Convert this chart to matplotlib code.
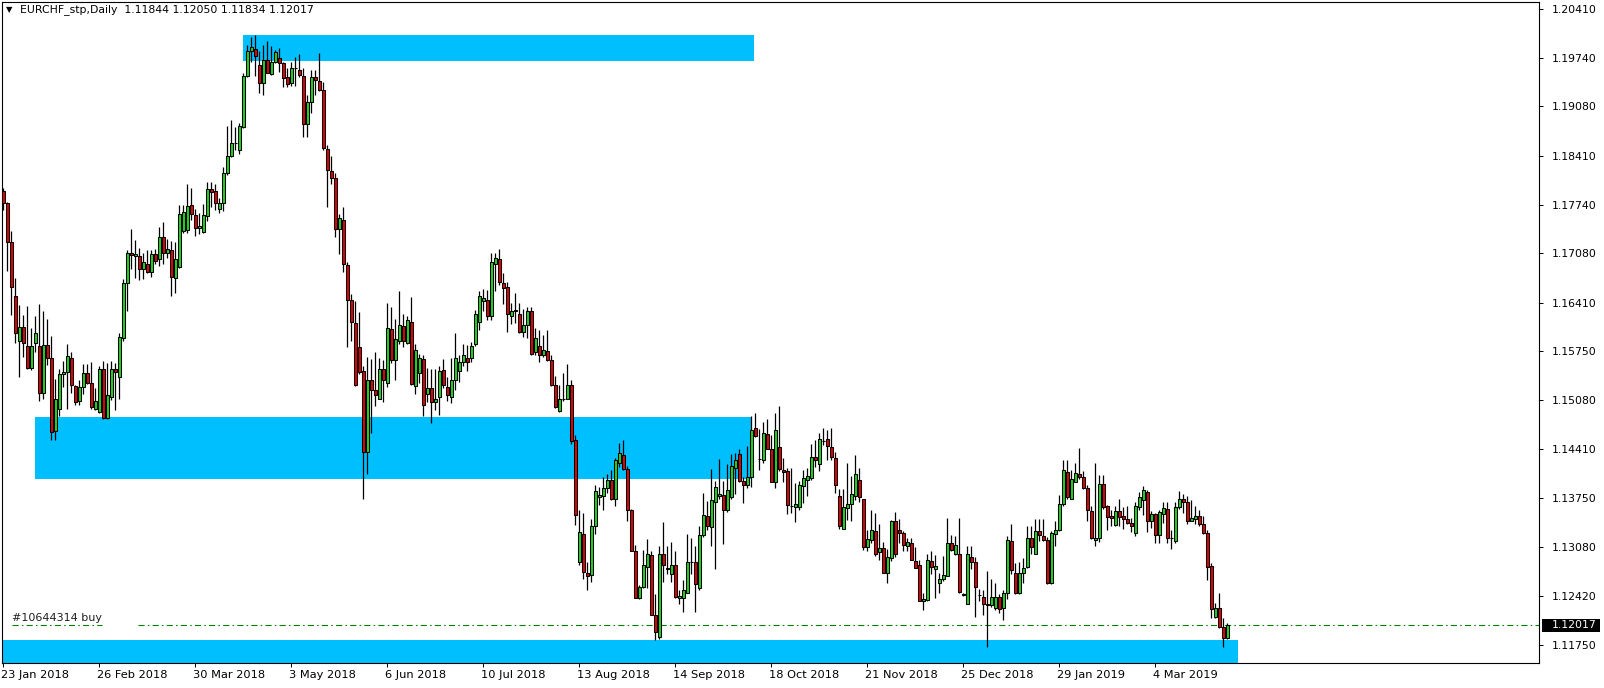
import numpy as np
import matplotlib.pyplot as plt
import matplotlib.transforms as mtransforms
from matplotlib.patches import Rectangle

# EURCHF daily candles, 23 Jan 2018 onwards
opens = [
    1.1793, 1.1777, 1.1724, 1.1650, 1.1588, 1.1607, 1.1582, 1.1552, 1.1586, 1.1582,
    1.1518, 1.1583, 1.1566, 1.1466, 1.1496, 1.1543, 1.1546, 1.1565, 1.1527, 1.1507,
    1.1526, 1.1545, 1.1532, 1.1496, 1.1492, 1.1551, 1.1484, 1.1513, 1.1550, 1.1539,
    1.1592, 1.1667, 1.1708, 1.1704, 1.1705, 1.1686, 1.1694, 1.1683, 1.1707, 1.1700,
    1.1730, 1.1708, 1.1712, 1.1675, 1.1689, 1.1739, 1.1740, 1.1774, 1.1760, 1.1743,
    1.1737, 1.1759, 1.1796, 1.1793, 1.1769, 1.1776, 1.1818, 1.1840, 1.1858, 1.1848,
    1.1880, 1.1949, 1.1983, 1.1986, 1.1965, 1.1940, 1.1971, 1.1952, 1.1968, 1.1974,
    1.1967, 1.1948, 1.1940, 1.1960, 1.1957, 1.1950, 1.1884, 1.1914, 1.1948, 1.1943,
    1.1930, 1.1850, 1.1820, 1.1810, 1.1741, 1.1754, 1.1692, 1.1644, 1.1613, 1.1580,
    1.1548, 1.1437, 1.1535, 1.1522, 1.1510, 1.1550, 1.1532, 1.1605, 1.1563, 1.1589,
    1.1609, 1.1586, 1.1615, 1.1527, 1.1545, 1.1564, 1.1516, 1.1525, 1.1506, 1.1512,
    1.1549, 1.1526, 1.1513, 1.1535, 1.1548, 1.1560, 1.1566, 1.1565, 1.1584, 1.1615,
    1.1643, 1.1645, 1.1623, 1.1694, 1.1700, 1.1667, 1.1662, 1.1623, 1.1630, 1.1625,
    1.1601, 1.1610, 1.1630, 1.1573, 1.1582, 1.1569, 1.1575, 1.1563, 1.1528, 1.1493,
    1.1510, 1.1510, 1.1529, 1.1454, 1.1288, 1.1326, 1.1273, 1.1270, 1.1336, 1.1376,
    1.1378, 1.1389, 1.1399, 1.1374, 1.1423, 1.1434, 1.1414, 1.1359, 1.1303, 1.1238,
    1.1253, 1.1281, 1.1297, 1.1216, 1.1185, 1.1298, 1.1280, 1.1271, 1.1283, 1.1238,
    1.1239, 1.1246, 1.1288, 1.1287, 1.1252, 1.1324, 1.1350, 1.1335, 1.1370, 1.1377,
    1.1379, 1.1358, 1.1376, 1.1415, 1.1435, 1.1398, 1.1392, 1.1403, 1.1470, 1.1428,
    1.1427, 1.1462, 1.1442, 1.1397, 1.1444, 1.1413, 1.1412, 1.1364, 1.1363, 1.1362,
    1.1391, 1.1399, 1.1402, 1.1430, 1.1421, 1.1453, 1.1455, 1.1444, 1.1429, 1.1378,
    1.1333, 1.1361, 1.1366, 1.1377, 1.1399, 1.1373, 1.1308, 1.1317, 1.1330, 1.1301,
    1.1307, 1.1273, 1.1293, 1.1343, 1.1331, 1.1327, 1.1309, 1.1313, 1.1289, 1.1283,
    1.1234, 1.1236, 1.1289, 1.1278, 1.1259, 1.1264, 1.1269, 1.1313, 1.1298, 1.1299,
    1.1244, 1.1231, 1.1295, 1.1288, 1.1243, 1.1240, 1.1230, 1.1229, 1.1225, 1.1240,
    1.1225, 1.1245, 1.1316, 1.1273, 1.1245, 1.1272, 1.1281, 1.1320, 1.1299, 1.1330,
    1.1323, 1.1318, 1.1259, 1.1326, 1.1331, 1.1367, 1.1410, 1.1374, 1.1397, 1.1407,
    1.1403, 1.1388, 1.1357, 1.1317, 1.1320, 1.1394, 1.1364, 1.1350, 1.1338, 1.1357,
    1.1350, 1.1346, 1.1341, 1.1327, 1.1363, 1.1372, 1.1383, 1.1344, 1.1353, 1.1325,
    1.1353, 1.1360, 1.1321, 1.1316, 1.1362, 1.1374, 1.1369, 1.1344, 1.1346, 1.1350,
    1.1340, 1.1327, 1.1282, 1.1213, 1.1225, 1.1199, 1.11844,
]
highs = [
    1.1797, 1.1778, 1.1738, 1.1674, 1.1638, 1.1624, 1.1636, 1.1606, 1.1623, 1.1639,
    1.1629, 1.1619, 1.1595, 1.1537, 1.1550, 1.1561, 1.1585, 1.1573, 1.1529, 1.1536,
    1.1557, 1.1557, 1.1560, 1.1524, 1.1555, 1.1562, 1.1558, 1.1561, 1.1559, 1.1599,
    1.1673, 1.1713, 1.1741, 1.1726, 1.1715, 1.1709, 1.1713, 1.1713, 1.1714, 1.1744,
    1.1750, 1.1727, 1.1725, 1.1724, 1.1774, 1.1774, 1.1803, 1.1797, 1.1768, 1.1763,
    1.1775, 1.1805, 1.1805, 1.1803, 1.1783, 1.1825, 1.1881, 1.1890, 1.1880, 1.1885,
    1.1954, 1.1992, 1.2002, 1.2005, 1.1983, 1.1992, 1.1997, 1.1990, 1.1985, 1.1987,
    1.1969, 1.1960, 1.1969, 1.1975, 1.1979, 1.1960, 1.1923, 1.1958, 1.1958, 1.1981,
    1.1941, 1.1856, 1.1841, 1.1817, 1.1762, 1.1771, 1.1696, 1.1652, 1.1643, 1.1628,
    1.1554, 1.1567, 1.1564, 1.1574, 1.1565, 1.1563, 1.1641, 1.1635, 1.1619, 1.1657,
    1.1625, 1.1623, 1.1648, 1.1585, 1.1571, 1.1570, 1.1552, 1.1550, 1.1550, 1.1554,
    1.1564, 1.1540, 1.1565, 1.1599, 1.1570, 1.1584, 1.1583, 1.1587, 1.1631, 1.1657,
    1.1659, 1.1658, 1.1708, 1.1709, 1.1714, 1.1681, 1.1669, 1.1640, 1.1654, 1.1640,
    1.1632, 1.1635, 1.1635, 1.1606, 1.1603, 1.1597, 1.1603, 1.1570, 1.1541, 1.1529,
    1.1545, 1.1557, 1.1536, 1.1460, 1.1359, 1.1354, 1.1287, 1.1346, 1.1393, 1.1390,
    1.1403, 1.1408, 1.1413, 1.1429, 1.1450, 1.1454, 1.1418, 1.1360, 1.1311, 1.1256,
    1.1304, 1.1319, 1.1303, 1.1244, 1.1310, 1.1342, 1.1310, 1.1315, 1.1303, 1.1250,
    1.1263, 1.1326, 1.1321, 1.1309, 1.1337, 1.1382, 1.1371, 1.1414, 1.1398, 1.1428,
    1.1398, 1.1421, 1.1435, 1.1436, 1.1442, 1.1403, 1.1445, 1.1486, 1.1491, 1.1469,
    1.1478, 1.1482, 1.1461, 1.1491, 1.1500, 1.1429, 1.1415, 1.1415, 1.1395, 1.1398,
    1.1413, 1.1415, 1.1448, 1.1454, 1.1463, 1.1470, 1.1468, 1.1470, 1.1437, 1.1387,
    1.1387, 1.1423, 1.1405, 1.1433, 1.1415, 1.1374, 1.1331, 1.1358, 1.1354, 1.1340,
    1.1315, 1.1306, 1.1345, 1.1356, 1.1346, 1.1330, 1.1321, 1.1320, 1.1308, 1.1290,
    1.1246, 1.1299, 1.1302, 1.1297, 1.1272, 1.1296, 1.1348, 1.1324, 1.1323, 1.1348,
    1.1245, 1.1309, 1.1309, 1.1294, 1.1251, 1.1249, 1.1276, 1.1264, 1.1259, 1.1244,
    1.1250, 1.1323, 1.1339, 1.1286, 1.1287, 1.1293, 1.1336, 1.1337, 1.1346, 1.1346,
    1.1346, 1.1322, 1.1330, 1.1344, 1.1379, 1.1427, 1.1427, 1.1413, 1.1423, 1.1443,
    1.1411, 1.1393, 1.1364, 1.1423, 1.1406, 1.1406, 1.1365, 1.1358, 1.1364, 1.1373,
    1.1363, 1.1364, 1.1347, 1.1369, 1.1383, 1.1391, 1.1386, 1.1357, 1.1354, 1.1359,
    1.1369, 1.1369, 1.1331, 1.1370, 1.1384, 1.1380, 1.1377, 1.1372, 1.1364, 1.1359,
    1.1350, 1.1331, 1.1286, 1.1232, 1.1245, 1.1212, 1.12050,
]
lows = [
    1.1767, 1.1684, 1.1624, 1.1586, 1.1540, 1.1567, 1.1551, 1.1549, 1.1573, 1.1507,
    1.1510, 1.1556, 1.1454, 1.1454, 1.1486, 1.1526, 1.1496, 1.1518, 1.1502, 1.1502,
    1.1516, 1.1530, 1.1496, 1.1495, 1.1491, 1.1483, 1.1483, 1.1508, 1.1494, 1.1509,
    1.1589, 1.1630, 1.1686, 1.1674, 1.1672, 1.1673, 1.1681, 1.1676, 1.1694, 1.1691,
    1.1693, 1.1701, 1.1650, 1.1654, 1.1688, 1.1736, 1.1735, 1.1753, 1.1731, 1.1734,
    1.1736, 1.1752, 1.1771, 1.1767, 1.1763, 1.1766, 1.1815, 1.1839, 1.1849, 1.1843,
    1.1878, 1.1948, 1.1969, 1.1950, 1.1926, 1.1924, 1.1953, 1.1951, 1.1967, 1.1955,
    1.1935, 1.1935, 1.1936, 1.1936, 1.1948, 1.1866, 1.1866, 1.1899, 1.1924, 1.1929,
    1.1849, 1.1771, 1.1802, 1.1730, 1.1707, 1.1683, 1.1580, 1.1588, 1.1527, 1.1544,
    1.1373, 1.1407, 1.1463, 1.1500, 1.1509, 1.1505, 1.1526, 1.1558, 1.1535, 1.1585,
    1.1580, 1.1584, 1.1529, 1.1517, 1.1532, 1.1486, 1.1505, 1.1477, 1.1494, 1.1488,
    1.1524, 1.1507, 1.1504, 1.1522, 1.1533, 1.1554, 1.1548, 1.1560, 1.1582, 1.1604,
    1.1630, 1.1617, 1.1617, 1.1657, 1.1665, 1.1639, 1.1601, 1.1612, 1.1613, 1.1600,
    1.1594, 1.1593, 1.1570, 1.1569, 1.1560, 1.1567, 1.1562, 1.1527, 1.1497, 1.1492,
    1.1507, 1.1509, 1.1449, 1.1338, 1.1283, 1.1264, 1.1250, 1.1261, 1.1326, 1.1365,
    1.1358, 1.1381, 1.1372, 1.1364, 1.1417, 1.1413, 1.1343, 1.1302, 1.1238, 1.1237,
    1.1252, 1.1252, 1.1215, 1.1181, 1.1183, 1.1261, 1.1271, 1.1260, 1.1239, 1.1231,
    1.1220, 1.1245, 1.1271, 1.1220, 1.1250, 1.1322, 1.1331, 1.1310, 1.1278, 1.1374,
    1.1312, 1.1356, 1.1374, 1.1380, 1.1397, 1.1368, 1.1388, 1.1390, 1.1458, 1.1413,
    1.1422, 1.1441, 1.1396, 1.1389, 1.1412, 1.1396, 1.1353, 1.1354, 1.1342, 1.1358,
    1.1368, 1.1377, 1.1399, 1.1417, 1.1412, 1.1447, 1.1427, 1.1427, 1.1382, 1.1333,
    1.1332, 1.1345, 1.1343, 1.1372, 1.1370, 1.1304, 1.1303, 1.1314, 1.1296, 1.1291,
    1.1272, 1.1259, 1.1289, 1.1294, 1.1314, 1.1303, 1.1303, 1.1290, 1.1279, 1.1234,
    1.1222, 1.1235, 1.1271, 1.1239, 1.1246, 1.1262, 1.1268, 1.1303, 1.1297, 1.1245,
    1.1242, 1.1230, 1.1278, 1.1213, 1.1234, 1.1215, 1.1172, 1.1227, 1.1222, 1.1218,
    1.1208, 1.1237, 1.1271, 1.1244, 1.1244, 1.1259, 1.1280, 1.1299, 1.1298, 1.1316,
    1.1316, 1.1258, 1.1258, 1.1309, 1.1330, 1.1364, 1.1374, 1.1374, 1.1396, 1.1400,
    1.1387, 1.1344, 1.1319, 1.1309, 1.1315, 1.1360, 1.1331, 1.1337, 1.1336, 1.1336,
    1.1333, 1.1339, 1.1329, 1.1323, 1.1359, 1.1352, 1.1328, 1.1334, 1.1313, 1.1313,
    1.1341, 1.1313, 1.1306, 1.1313, 1.1360, 1.1354, 1.1340, 1.1343, 1.1340, 1.1337,
    1.1326, 1.1263, 1.1211, 1.1211, 1.1198, 1.1172, 1.11834,
]
closes = [
    1.1777, 1.1724, 1.1662, 1.1599, 1.1607, 1.1586, 1.1552, 1.1582, 1.1599, 1.1518,
    1.1583, 1.1566, 1.1464, 1.1509, 1.1543, 1.1546, 1.1568, 1.1528, 1.1506, 1.1526,
    1.1545, 1.1532, 1.1499, 1.1507, 1.1551, 1.1484, 1.1515, 1.1550, 1.1547, 1.1594,
    1.1667, 1.1708, 1.1706, 1.1707, 1.1686, 1.1696, 1.1683, 1.1707, 1.1697, 1.1730,
    1.1708, 1.1714, 1.1676, 1.1700, 1.1762, 1.1764, 1.1772, 1.1761, 1.1743, 1.1745,
    1.1760, 1.1796, 1.1792, 1.1777, 1.1777, 1.1818, 1.1841, 1.1858, 1.1858, 1.1882,
    1.1949, 1.1984, 1.1989, 1.1977, 1.1940, 1.1971, 1.1954, 1.1969, 1.1982, 1.1967,
    1.1947, 1.1938, 1.1960, 1.1960, 1.1951, 1.1884, 1.1914, 1.1948, 1.1944, 1.1930,
    1.1852, 1.1822, 1.1810, 1.1741, 1.1756, 1.1693, 1.1644, 1.1614, 1.1528, 1.1546,
    1.1438, 1.1535, 1.1522, 1.1515, 1.1551, 1.1535, 1.1606, 1.1563, 1.1591, 1.1611,
    1.1588, 1.1617, 1.1530, 1.1577, 1.1565, 1.1502, 1.1525, 1.1506, 1.1510, 1.1548,
    1.1529, 1.1515, 1.1535, 1.1566, 1.1560, 1.1569, 1.1560, 1.1582, 1.1626, 1.1650,
    1.1647, 1.1623, 1.1696, 1.1702, 1.1669, 1.1661, 1.1626, 1.1630, 1.1631, 1.1601,
    1.1610, 1.1630, 1.1571, 1.1593, 1.1569, 1.1576, 1.1563, 1.1528, 1.1499, 1.1510,
    1.1510, 1.1529, 1.1453, 1.1351, 1.1328, 1.1274, 1.1269, 1.1337, 1.1384, 1.1379,
    1.1389, 1.1399, 1.1374, 1.1427, 1.1436, 1.1414, 1.1359, 1.1303, 1.1239, 1.1254,
    1.1283, 1.1298, 1.1216, 1.1192, 1.1298, 1.1283, 1.1278, 1.1283, 1.1240, 1.1242,
    1.1250, 1.1287, 1.1288, 1.1257, 1.1324, 1.1351, 1.1336, 1.1372, 1.1390, 1.1380,
    1.1359, 1.1386, 1.1418, 1.1427, 1.1398, 1.1392, 1.1403, 1.1468, 1.1459, 1.1428,
    1.1463, 1.1442, 1.1397, 1.1468, 1.1414, 1.1410, 1.1365, 1.1364, 1.1366, 1.1392,
    1.1402, 1.1405, 1.1430, 1.1426, 1.1455, 1.1453, 1.1446, 1.1431, 1.1392, 1.1336,
    1.1362, 1.1366, 1.1380, 1.1407, 1.1376, 1.1308, 1.1319, 1.1331, 1.1298, 1.1307,
    1.1273, 1.1294, 1.1343, 1.1298, 1.1327, 1.1311, 1.1315, 1.1290, 1.1280, 1.1235,
    1.1237, 1.1290, 1.1281, 1.1282, 1.1264, 1.1270, 1.1313, 1.1304, 1.1311, 1.1247,
    1.1243, 1.1298, 1.1288, 1.1254, 1.1243, 1.1230, 1.1229, 1.1240, 1.1240, 1.1223,
    1.1245, 1.1318, 1.1277, 1.1246, 1.1272, 1.1280, 1.1320, 1.1308, 1.1330, 1.1325,
    1.1318, 1.1259, 1.1327, 1.1331, 1.1367, 1.1413, 1.1376, 1.1400, 1.1409, 1.1403,
    1.1388, 1.1359, 1.1320, 1.1320, 1.1394, 1.1362, 1.1349, 1.1347, 1.1357, 1.1349,
    1.1346, 1.1341, 1.1336, 1.1364, 1.1376, 1.1386, 1.1344, 1.1353, 1.1325, 1.1356,
    1.1361, 1.1320, 1.1321, 1.1363, 1.1374, 1.1370, 1.1344, 1.1348, 1.1350, 1.1340,
    1.1327, 1.1281, 1.1224, 1.1225, 1.1199, 1.1184, 1.12017,
]

price_ticks = [1.20410, 1.19740, 1.19080, 1.18410, 1.17740, 1.17080, 1.16410,
               1.15750, 1.15080, 1.14410, 1.13750, 1.13080, 1.12420, 1.11750]
date_labels = ['23 Jan 2018', '26 Feb 2018', '30 Mar 2018', '3 May 2018',
               '6 Jun 2018', '10 Jul 2018', '13 Aug 2018', '14 Sep 2018',
               '18 Oct 2018', '21 Nov 2018', '25 Dec 2018', '29 Jan 2019',
               '4 Mar 2019']
label_every = 24  # bars between date labels

# supply / demand zones: bar start, bar end, price bottom, price top
zone_start = [60, 8, -2]
zone_end = [187.7, 187.2, 308.6]
zone_low = [1.1970, 1.1401, 1.1100]
zone_high = [1.2005, 1.1485, 1.1182]

order_price = 1.12017
order_label = '#10644314 buy'

W, H = 1604, 688
bar_px = 4.0
first_px = 3.3

fig = plt.figure(figsize=(W / 100, H / 100), dpi=100)
ax = fig.add_axes([2 / W, (H - 663) / H, (1539 - 2) / W, (663 - 1.5) / H])

n = len(closes)
x = np.arange(n)
o = np.array(opens)
c = np.array(closes)
up = c >= o

# zones behind everything
for s, e, lo, hi in zip(zone_start, zone_end, zone_low, zone_high):
    ax.add_patch(Rectangle((s, lo), e - s, hi - lo, facecolor='#00BFFF',
                           edgecolor='none', zorder=1))

# order line (dash-dot), broken around the label
dd = (5.5, 2.9, 1.4, 2.9)
ax.plot([2.1, 24.7], [order_price, order_price], color='#008000', lw=0.8,
        dashes=dd, zorder=2)
ax.plot([33.7, 400], [order_price, order_price], color='#008000', lw=0.8,
        dashes=dd, zorder=2)
ax.annotate(order_label, xy=(2.2, order_price), xytext=(0, 1.2),
            textcoords='offset points', ha='left', va='bottom',
            fontsize=8, color='#202020', zorder=5)

# candles
ax.vlines(x, lows, highs, color='black', lw=0.9, zorder=3)
ax.bar(x, np.abs(c - o), bottom=np.minimum(o, c), width=0.62,
       color=np.where(up, '#1ed41e', '#e00000'), edgecolor='black',
       linewidth=0.75, zorder=4)

ax.set_xlim((2 - first_px) / bar_px, (1539 - first_px) / bar_px)
ax.set_ylim(1.11501, 1.20509)

# right price axis
ax.yaxis.tick_right()
ax.set_yticks(price_ticks)
ax.set_yticklabels([f'{p:.5f}' for p in price_ticks])
ax.tick_params(axis='y', direction='out', length=3, width=0.7, pad=6.3,
               labelsize=7.8, colors='black')

# bottom date axis
ticks = [k * label_every for k in range(len(date_labels))]
ax.set_xticks(ticks)
ax.set_xticklabels(date_labels, ha='left')
ax.tick_params(axis='x', direction='out', length=3, width=0.7, pad=2,
               labelsize=8.2, colors='black')
shift = mtransforms.ScaledTranslation(-2 / 100, 0, fig.dpi_scale_trans)
for lbl in ax.get_xticklabels():
    lbl.set_transform(lbl.get_transform() + shift)

for sp in ax.spines.values():
    sp.set_linewidth(0.8)
    sp.set_color('black')

# current price tag on the axis
blend = mtransforms.blended_transform_factory(ax.transAxes, ax.transData)
tag_h = 13 / 7343
ax.add_patch(Rectangle((1.0022, closes[-1] - tag_h / 2), 0.0378, tag_h,
                       transform=blend, facecolor='black', edgecolor='none',
                       clip_on=False, zorder=6))
ax.text(1.0085, closes[-1], f'{closes[-1]:.5f}', transform=blend,
        ha='left', va='center', color='white', fontsize=7.8, zorder=7)

# header
fig.text(6 / W, 1 - 10 / H, '\u25bc', fontsize=6, va='center', ha='left')
fig.text(20.5 / W, 1 - 10 / H,
         f'EURCHF_stp,Daily  {opens[-1]:.5f} {highs[-1]:.5f} '
         f'{lows[-1]:.5f} {closes[-1]:.5f}',
         fontsize=7.8, va='center', ha='left')

fig.savefig('out.png', dpi=100, facecolor='white')
